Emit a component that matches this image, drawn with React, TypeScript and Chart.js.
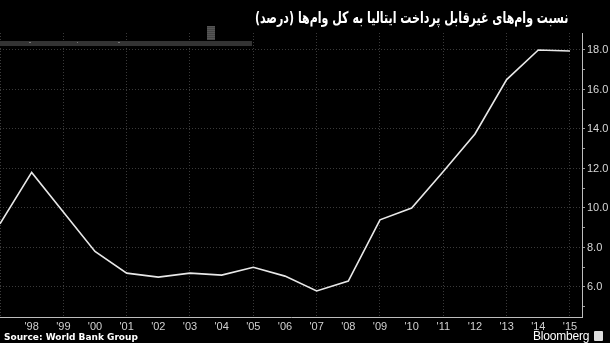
import React, { useEffect, useRef } from "react";
import { Chart, registerables } from "chart.js";

Chart.register(...registerables);

const TITLE = "نسبت وام‌های غیرقابل پرداخت ایتالیا به کل وام‌ها (درصد)";
const SOURCE = "Source: World Bank Group";
const years = [1997, 1998, 1999, 2000, 2001, 2002, 2003, 2004, 2005, 2006, 2007, 2008, 2009, 2010, 2011, 2012, 2013, 2014, 2015];
const nplRatio = [9.2, 11.8, 9.8, 7.8, 6.7, 6.5, 6.7, 6.6, 7.0, 6.55, 5.8, 6.3, 9.4, 10.0, 11.85, 13.75, 16.5, 18.0, 17.95];
const X_MIN = 1997;
const X_MAX = 2015.38;
const Y_MIN = 4.48;
const Y_MAX = 18.86;

export default function App() {
  const ref = useRef<HTMLCanvasElement | null>(null);

  useEffect(() => {
    document.body.style.margin = "0";
    document.body.style.background = "#000";
    const canvas = ref.current;
    if (!canvas) return;
    const chart = new Chart(canvas, {
      type: "line",
      data: {
        datasets: [
          {
            data: years.map((y, i) => ({ x: y, y: nplRatio[i] })),
            borderColor: "#e8e8e8",
            borderWidth: 1.6,
            pointRadius: 0,
            tension: 0,
            fill: false,
          },
        ],
      },
      options: {
        animation: false,
        responsive: false,
        maintainAspectRatio: false,
        layout: { padding: { top: 33, left: 0, right: 0, bottom: 0 } },
        plugins: {
          legend: { display: false },
          tooltip: { enabled: false },
          title: { display: false },
        },
        scales: {
          x: {
            type: "linear",
            min: X_MIN,
            max: X_MAX,
            afterFit: (s: any) => {
              s.height = 26;
            },
            ticks: {
              stepSize: 1,
              includeBounds: false,
              autoSkip: false,
              maxRotation: 0,
              padding: 0,
              align: "center",
              color: "#d0d0d0",
              font: { family: "Liberation Sans, Arial, sans-serif", size: 11 },
              callback: (v: any) => {
                const n = Math.round(Number(v));
                if (n === 1997) return "";
                return "'" + String(n).slice(2);
              },
            },
            grid: {
              drawTicks: true,
              tickLength: 3,
              tickColor: "rgba(0,0,0,0)",
              lineWidth: 1,
              color: (ctx: any) => {
                const n = Math.round(ctx.tick?.value ?? 0);
                return n % 2 === 1 ? "#3a3a3a" : "rgba(0,0,0,0)";
              },
            },
            border: { display: true, color: "#bdbdbd", width: 1, dash: [1, 2] },
          },
          y: {
            position: "right",
            min: Y_MIN,
            max: Y_MAX,
            afterFit: (s: any) => {
              s.width = 28;
            },
            ticks: {
              stepSize: 1,
              includeBounds: false,
              padding: 2,
              color: "#d8d8d8",
              font: { family: "Liberation Sans, Arial, sans-serif", size: 11 },
              callback: (v: any) => {
                const n = Math.round(Number(v));
                return n % 2 === 0 ? n.toFixed(1) : "";
              },
            },
            grid: {
              drawTicks: true,
              tickLength: 3,
              tickColor: "#9a9a9a",
              lineWidth: 1,
              color: (ctx: any) => {
                const n = Math.round(ctx.tick?.value ?? 0);
                return n % 2 === 0 ? "#3a3a3a" : "rgba(0,0,0,0)";
              },
            },
            border: { display: true, color: "#bdbdbd", width: 1, dash: [1, 2] },
          },
        },
      },
    });
    return () => chart.destroy();
  }, []);

  return (
    <div
      style={{
        position: "fixed",
        left: 0,
        top: 0,
        width: 610,
        height: 343,
        background: "#000",
        overflow: "hidden",
      }}
    >
      <canvas ref={ref} width={610} height={343} style={{ position: "absolute", left: 0, top: 0, width: 610, height: 343 }} />
      <div
        dir="rtl"
        style={{
          position: "absolute",
          right: 42,
          top: 7,
          color: "#fff",
          fontFamily: "DejaVu Sans, sans-serif",
          fontWeight: "bold",
          fontSize: 16,
          lineHeight: "22px",
          whiteSpace: "nowrap",
          transform: "scaleX(0.69)",
          transformOrigin: "right center",
        }}
      >
        {TITLE}
      </div>
      <div style={{ position: "absolute", left: 0, top: 41, width: 252, height: 5, background: "#333" }} />
      <div style={{ position: "absolute", left: 29, top: 42, width: 2, height: 1, background: "#777" }} />
      <div style={{ position: "absolute", left: 77, top: 42, width: 1, height: 1, background: "#777" }} />
      <div style={{ position: "absolute", left: 118, top: 42, width: 2, height: 1, background: "#777" }} />
      <div style={{ position: "absolute", left: 207, top: 26, width: 8, height: 14, background: "repeating-linear-gradient(#555 0 1px, #444 1px 2px)" }} />
      <div
        style={{
          position: "absolute",
          left: 4,
          top: 331,
          color: "#fff",
          fontFamily: "DejaVu Sans, sans-serif",
          fontWeight: "bold",
          fontSize: 9,
          whiteSpace: "nowrap",
          lineHeight: "12px",
        }}
      >
        {SOURCE}
      </div>
      <div
        style={{
          position: "absolute",
          left: 533,
          top: 329,
          color: "#fff",
          fontFamily: "Liberation Sans, Arial, sans-serif",
          fontSize: 12,
          whiteSpace: "nowrap",
          lineHeight: "14px",
          letterSpacing: -0.2,
        }}
      >
        Bloomberg
      </div>
      <div style={{ position: "absolute", left: 594, top: 331, width: 9, height: 10, background: "#ddd", borderRadius: 1 }} />
    </div>
  );
}
